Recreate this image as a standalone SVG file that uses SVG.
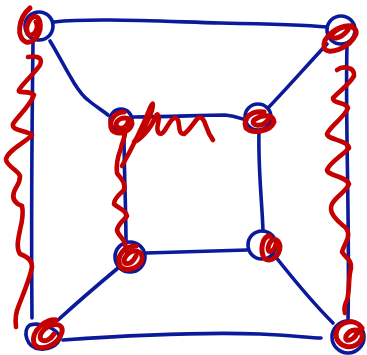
<svg xmlns="http://www.w3.org/2000/svg" width="367" height="355" viewBox="0 0 367 355">
<style>
.b{fill:none;stroke:#0a1a9a;stroke-width:3.6;stroke-linecap:round;stroke-linejoin:round}
.r{fill:none;stroke:#c40000;stroke-width:4.6;stroke-linecap:round;stroke-linejoin:round}
.rn{fill:none;stroke:#c40000;stroke-width:5;stroke-linecap:round;stroke-linejoin:round}
</style>
<rect width="367" height="355" fill="#fff"/>
<g id="connectors">
<path class="b" d="M54 22 C 90 18, 150 21, 220 23 C 270 24, 305 25, 327 27"/>
<path class="b" d="M33 42 C 32 120, 31 200, 32 318"/>
<path class="b" d="M347 45 C 345 120, 350 220, 348 321"/>
<path class="b" d="M63 340 C 120 336, 200 332, 260 334 C 290 335, 310 338, 321 338"/>
<path class="b" d="M50 41 C 62 60, 75 90, 88 100 C 95 106, 102 110, 108 115"/>
<path class="b" d="M327 44 C 310 62, 290 85, 268 108"/>
<path class="b" d="M58 320 C 80 300, 100 283, 118 268"/>
<path class="b" d="M333 323 C 310 300, 290 275, 275 256"/>
<path class="b" d="M133 117 C 170 117, 200 115, 225 115 C 238 116, 243 120, 247 120"/>
<path class="b" d="M124 132 C 124 170, 126 210, 126 243"/>
<path class="b" d="M259 131 C 258 170, 262 200, 263 231"/>
<path class="b" d="M146 253 C 180 252, 220 251, 247 250"/>
</g>
<g id="n-tl"><circle class="b" cx="39" cy="26" r="14"/><path class="rn" d="M30 8 C 18 18, 16 38, 26 42 C 38 44, 44 25, 38 18 C 32 12, 24 26, 28 34 C 32 38, 40 30, 36 22"/></g>
<g id="n-tr"><circle class="b" cx="341" cy="30" r="14"/><path class="rn" d="M352 26 C 340 24, 322 36, 324 48 C 328 56, 350 48, 356 34 C 358 26, 344 22, 332 34 C 330 40, 340 40, 348 30"/></g>
<g id="n-bl"><path class="b" d="M30 325 C 22 330, 26 348, 40 349 C 50 350, 58 345, 60 338 C 58 328, 40 322, 30 325"/><path class="rn" d="M56 320 C 48 318, 30 330, 34 344 C 40 352, 58 346, 62 332 C 64 322, 50 322, 42 332 C 36 340, 46 346, 54 334"/></g>
<g id="n-br"><circle class="b" cx="348" cy="337" r="16"/><path class="rn" d="M362 328 C 356 318, 338 320, 336 334 C 336 348, 356 352, 362 338 C 364 330, 352 326, 346 336 C 344 344, 356 340, 358 330"/></g>
<g id="n-itl"><circle class="b" cx="121" cy="120" r="11"/><path class="rn" d="M124 112 C 114 112, 108 122, 112 130 C 118 136, 130 132, 132 124 C 132 116, 118 116, 116 124 C 116 130, 126 130, 128 122"/></g>
<g id="n-itr"><circle class="b" cx="258" cy="117" r="13"/><path class="rn" d="M264 112 C 252 110, 242 118, 246 128 C 252 134, 270 132, 274 122 C 274 114, 262 114, 254 120 C 250 126, 262 128, 268 120"/></g>
<g id="n-ibl"><circle class="b" cx="130" cy="257" r="15"/><path class="rn" d="M136 246 C 124 246, 116 256, 120 266 C 124 272, 138 270, 142 260 C 144 250, 132 248, 126 256 C 120 264, 130 268, 136 256"/></g>
<g id="n-ibr"><circle class="b" cx="262" cy="245" r="14"/><path class="rn" d="M270 236 C 262 236, 260 250, 264 258 C 270 264, 280 256, 280 246 C 278 236, 270 238, 268 248 C 268 254, 274 252, 276 244"/></g>
<g id="scribbles">
<path class="r" d="M28 57 C 34 56, 44 56, 40 65 C 34 74, 24 82, 19 90 C 17 94, 30 90, 34 95 C 30 106, 18 116, 13 124 C 11 131, 26 130, 32 135 C 26 142, 8 150, 6 159 C 6 166, 18 170, 20 176 C 20 184, 16 186, 14 192 C 12 198, 14 203, 22 206 C 24 214, 22 222, 20 230 C 18 240, 16 248, 20 254 C 26 256, 32 260, 32 267 C 30 278, 24 292, 19 305 C 15 314, 15 320, 16 327"/>
<path class="r" d="M337 70 C 342 66, 355 66, 354 76 C 348 86, 338 92, 333 98 C 333 104, 346 102, 348 108 C 344 118, 330 126, 327 134 C 328 140, 348 140, 349 148 C 342 156, 330 162, 327 170 C 328 176, 346 176, 349 184 C 346 192, 336 196, 332 204 C 328 212, 336 220, 346 228 C 352 236, 344 244, 342 252 C 346 258, 352 260, 351 268 C 348 278, 350 290, 347 300 C 344 306, 344 310, 345 313"/>
<path class="r" d="M125 133 C 125 138, 122 142, 121 148 C 118 156, 116 166, 117 173 C 120 178, 126 182, 124 190 C 120 194, 114 198, 114 204 C 118 208, 126 210, 127 216 C 124 220, 118 224, 117 230 C 118 236, 124 238, 125 244 C 126 248, 126 250, 127 252"/>
<path class="r" d="M122 166 C 132 148, 142 128, 150 108 C 153 102, 154 102, 152 110 C 148 124, 140 134, 134 142 C 140 140, 150 130, 156 116 C 157 112, 160 116, 158 124 C 156 132, 160 138, 165 130 C 170 122, 174 114, 178 120 C 180 126, 178 134, 184 134 C 190 130, 194 122, 198 118 C 202 116, 204 120, 206 126 C 208 132, 210 136, 213 140"/>
</g>
</svg>
